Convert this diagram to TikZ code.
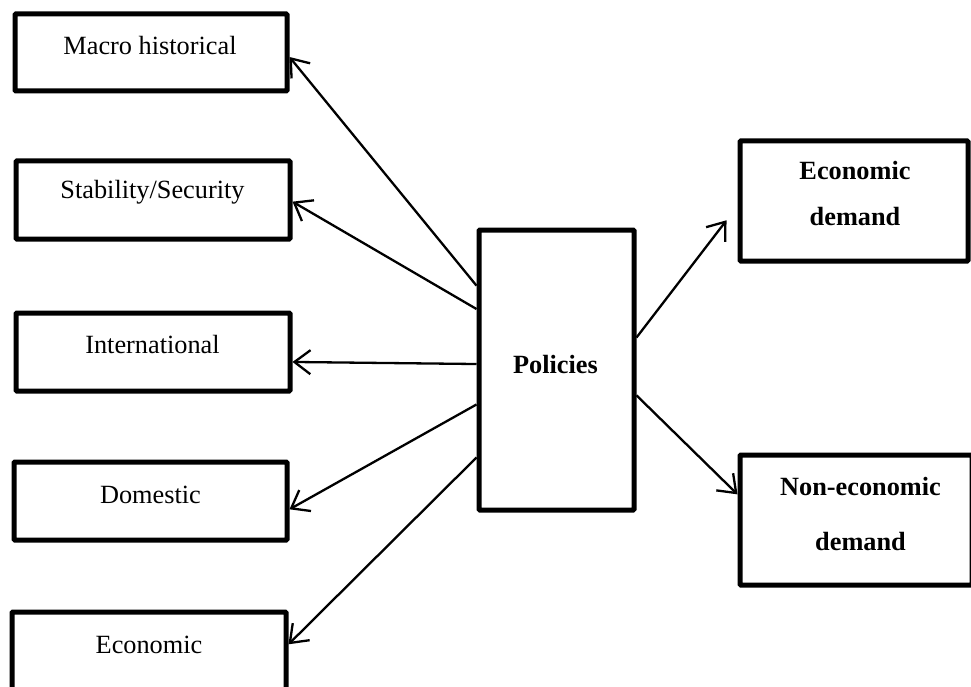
\documentclass[tikz,border=0pt]{standalone}
\usepackage{fontspec}
\setmainfont{Liberation Serif}
\usetikzlibrary{arrows.meta,calc}

\tikzset{
  box/.style={draw=black, line width=5pt, fill=white, inner sep=0pt, rounded corners=1pt},
  lbl/.style={anchor=base, inner sep=0pt, font=\fontsize{26.3}{30}\selectfont},
  blbl/.style={lbl, font=\fontsize{26.3}{30}\selectfont\bfseries},
  arr/.style={line width=2.3pt, -{Straight Barb[length=16pt,width=24pt,line width=2.3pt]}}
}

\begin{document}
\begin{tikzpicture}[x=1pt,y=-1pt]
  \useasboundingbox (0,0) rectangle (971,687);

  % left column: factors
  \node[box, minimum width=272pt, minimum height=77pt] (mh)   at (151,52.5) {};
  \node[box, minimum width=274pt, minimum height=78pt] (ss)   at (153,200) {};
  \node[box, minimum width=274pt, minimum height=78pt] (intl) at (153,352) {};
  \node[box, minimum width=273pt, minimum height=78pt] (dom)  at (150.5,501) {};
  \node[box, minimum width=274pt, minimum height=82pt] (eco)  at (149,653) {};

  \node[lbl] (mht)   at (150,55)    {Macro historical};
  \node[lbl] (sst)   at (152.5,199) {Stability/Security};
  \node[lbl] (intlt) at (152.5,353) {International};
  \node[lbl] (domt)  at (150.5,503) {Domestic};
  \node[lbl] (ecot)  at (149,653)   {Economic};

  % centre: policies
  \node[box, minimum width=155pt, minimum height=280pt] (pol) at (556.5,370) {};
  \node[blbl] (polt) at (555.5,373) {Policies};

  % right column: demands
  \node[box, minimum width=228pt, minimum height=120pt] (ed)  at (854,201) {};
  \node[box, minimum width=232pt, minimum height=130pt] (ned) at (856,520) {};

  \node[blbl] (edA)  at (855,179)   {Economic};
  \node[blbl] (edB)  at (855,225)   {demand};
  \node[blbl] (nedA) at (860.5,495) {Non-economic};
  \node[blbl] (nedB) at (860.5,550) {demand};

  % connectors
  \draw[arr] ($(pol.north west)!0.204!(pol.south west)$) -- ($(mh.north east)!0.555!(mh.south east)$);
  \draw[arr] ($(pol.north west)!0.286!(pol.south west)$) -- ($(ss.north east)!0.52!(ss.south east)$);
  \draw[arr] ($(pol.north west)!0.479!(pol.south west)$) -- ($(intl.north east)!0.62!(intl.south east)$);
  \draw[arr] ($(pol.north west)!0.621!(pol.south west)$) -- ($(dom.north east)!0.60!(dom.south east)$);
  \draw[arr] ($(pol.north west)!0.807!(pol.south west)$) -- ($(eco.north east)!0.40!(eco.south east)$);

  \draw[arr, shorten >=18pt] ($(pol.north east)!0.386!(pol.south east)$) -- ($(ed.north west)!0.54!(ed.south west)$);
  \draw[arr] ($(pol.north east)!0.589!(pol.south east)$) -- ($(ned.north west)!0.31!(ned.south west)$);
\end{tikzpicture}
\end{document}
